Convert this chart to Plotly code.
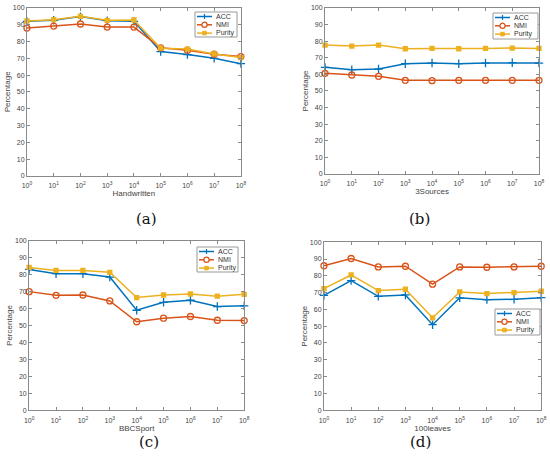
import plotly.graph_objects as go

exponents = [0, 1, 2, 3, 4, 5, 6, 7, 8]
tick_labels = ["10<sup>%d</sup>" % k for k in exponents]
series_names = ["ACC", "NMI", "Purity"]
datasets = ["Handwritten", "3Sources", "BBCSport", "100leaves"]
panel_labels = ["(a)", "(b)", "(c)", "(d)"]

hw_acc = [92.0, 92.6, 94.8, 92.4, 92.0, 74.0, 72.2, 70.0, 66.8]
hw_nmi = [88.0, 89.2, 90.4, 88.6, 88.6, 76.2, 74.8, 72.4, 71.0]
hw_pur = [92.2, 93.0, 95.0, 92.6, 92.8, 76.0, 75.5, 72.6, 70.4]

s3_acc = [64.2, 62.8, 63.2, 66.4, 66.8, 66.4, 66.8, 67.0, 66.8]
s3_nmi = [60.6, 59.6, 58.8, 56.4, 56.2, 56.4, 56.4, 56.4, 56.4]
s3_pur = [77.6, 77.0, 77.6, 75.4, 75.6, 75.4, 75.6, 75.8, 75.6]

bbc_acc = [83.1, 80.6, 80.6, 78.6, 59.0, 63.7, 64.9, 61.2, 61.6]
bbc_nmi = [70.0, 67.8, 68.0, 64.5, 52.2, 54.3, 55.3, 53.1, 52.9]
bbc_pur = [84.3, 82.5, 82.5, 81.4, 66.5, 68.0, 68.6, 67.3, 68.4]

lv_acc = [68.4, 77.1, 67.8, 68.6, 50.9, 66.9, 65.8, 66.0, 67.0]
lv_nmi = [86.0, 90.3, 85.3, 85.7, 75.0, 85.3, 85.1, 85.3, 85.7]
lv_pur = [72.4, 80.5, 71.2, 72.0, 55.0, 70.4, 69.4, 70.0, 70.8]

all_data = [
    [hw_acc, hw_nmi, hw_pur],
    [s3_acc, s3_nmi, s3_pur],
    [bbc_acc, bbc_nmi, bbc_pur],
    [lv_acc, lv_nmi, lv_pur],
]

colors = ["#0072BD", "#D95319", "#EDB120"]
symbols = ["cross-thin", "circle-open", "square"]
msizes = [6, 6, 4]

W, H = 550, 464
# panel geometry (paper fractions)
xdoms = [(0.049, 0.438), (0.591, 0.980), (0.053, 0.444), (0.589, 0.984)]
ydoms = [(0.621, 0.983), (0.625, 0.983), (0.116, 0.481), (0.116, 0.478)]
# legend boxes in pixels: left, top, width, height
legend_boxes = [(195, 12, 42, 25), (493, 13, 45, 26), (197, 247, 41, 25), (495, 309, 45, 26)]
label_y = [219, 219, 453, 453]

fig = go.Figure()
axis_color = "#8a8a8a"
font_fam = "Liberation Sans, Arial, sans-serif"


def px(x):
    return x / W


def py(y):
    return 1 - y / H


shapes = []
for i in range(4):
    xa = "x" if i == 0 else "x%d" % (i + 1)
    ya = "y" if i == 0 else "y%d" % (i + 1)
    for j in range(3):
        fig.add_trace(go.Scatter(
            x=exponents, y=all_data[i][j], name=series_names[j],
            mode="lines+markers", xaxis=xa, yaxis=ya, showlegend=False,
            cliponaxis=False,
            line=dict(color=colors[j], width=1.5),
            marker=dict(symbol=symbols[j], size=msizes[j], color=colors[j],
                        line=dict(color=colors[j], width=1.3)),
        ))
    xkey = "xaxis" if i == 0 else "xaxis%d" % (i + 1)
    ykey = "yaxis" if i == 0 else "yaxis%d" % (i + 1)
    fig.layout[xkey] = dict(
        domain=list(xdoms[i]), anchor=ya, range=[0, 8], automargin=False,
        tickvals=exponents, ticktext=tick_labels,
        ticks="inside", ticklen=3, tickcolor=axis_color,
        showline=True, linecolor=axis_color, linewidth=1, mirror="ticks",
        showgrid=False, zeroline=False, ticklabelstandoff=3,
        tickfont=dict(size=7, color="#444", family=font_fam),
        title=dict(text=datasets[i], font=dict(size=8, color="#444", family=font_fam), standoff=1),
    )
    fig.layout[ykey] = dict(
        domain=list(ydoms[i]), anchor=xa, range=[0, 100], dtick=10, automargin=False,
        ticks="inside", ticklen=3, tickcolor=axis_color,
        showline=True, linecolor=axis_color, linewidth=1, mirror="ticks",
        showgrid=False, zeroline=False,
        tickfont=dict(size=7, color="#444", family=font_fam),
        title=dict(text="Percentage", font=dict(size=8, color="#444", family=font_fam), standoff=1),
    )

    # manual compact legend
    L, T, Wb, Hb = legend_boxes[i]
    shapes.append(dict(type="rect", xref="paper", yref="paper",
                       x0=px(L), x1=px(L + Wb), y0=py(T + Hb), y1=py(T),
                       line=dict(color="#999", width=1), fillcolor="white", layer="above"))
    for j in range(3):
        ry = T + 4.5 + 8.3 * j
        shapes.append(dict(type="line", xref="paper", yref="paper",
                           x0=px(L + 2), x1=px(L + 17), y0=py(ry), y1=py(ry),
                           line=dict(color=colors[j], width=1.5), layer="above"))
        cx = L + 9.5
        if j == 0:
            shapes.append(dict(type="line", xref="paper", yref="paper",
                               x0=px(cx), x1=px(cx), y0=py(ry - 2.5), y1=py(ry + 2.5),
                               line=dict(color=colors[j], width=1.2), layer="above"))
        elif j == 1:
            shapes.append(dict(type="circle", xref="paper", yref="paper",
                               x0=px(cx - 2.6), x1=px(cx + 2.6), y0=py(ry + 2.6), y1=py(ry - 2.6),
                               line=dict(color=colors[j], width=1.2), fillcolor="white", layer="above"))
        else:
            shapes.append(dict(type="rect", xref="paper", yref="paper",
                               x0=px(cx - 1.8), x1=px(cx + 1.8), y0=py(ry + 1.8), y1=py(ry - 1.8),
                               line=dict(color=colors[j], width=1), fillcolor=colors[j], layer="above"))
        fig.add_annotation(text=series_names[j], x=px(L + 19), y=py(ry), xref="paper", yref="paper",
                           xanchor="left", yanchor="middle", showarrow=False,
                           font=dict(size=7, color="#333", family=font_fam))

    xc = (xdoms[i][0] + xdoms[i][1]) / 2
    fig.add_annotation(text=panel_labels[i], x=xc, y=py(label_y[i]), xref="paper", yref="paper",
                       showarrow=False, font=dict(size=15, color="#111", family="DejaVu Serif, serif"))

fig.update_layout(
    width=W, height=H, margin=dict(l=0, r=0, t=0, b=0),
    paper_bgcolor="white", plot_bgcolor="white", showlegend=False,
    shapes=shapes,
)

fig.write_html(
    "out.html",
    config={"displayModeBar": False},
    post_script="document.body.style.margin='0px';document.body.style.padding='0px';document.body.style.overflow='hidden';",
)
